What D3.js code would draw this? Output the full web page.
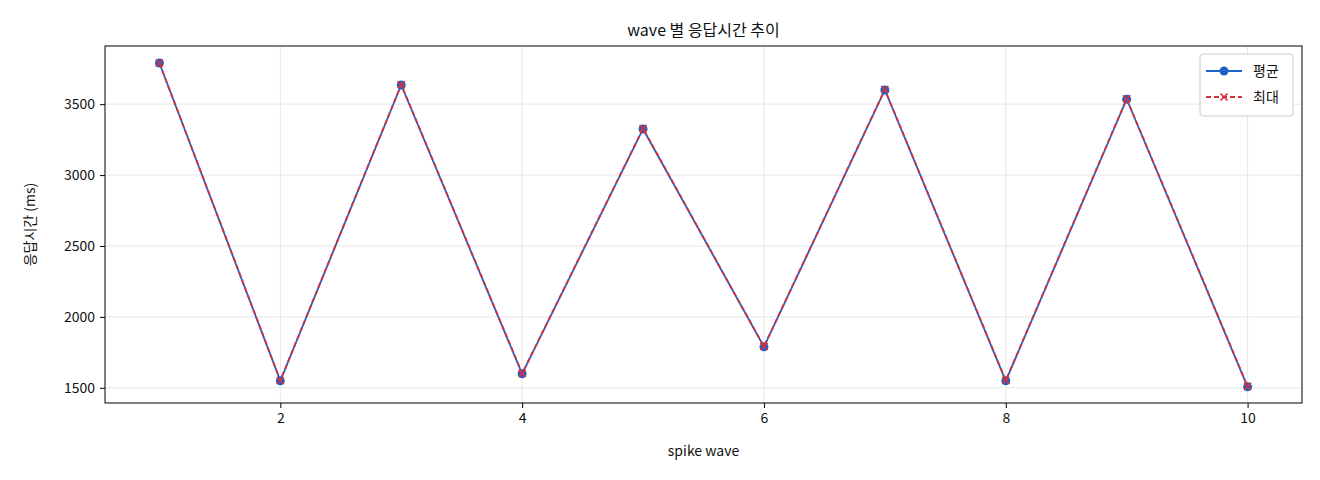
<!DOCTYPE html><html><head><meta charset="utf-8"><script src="https://cdn.jsdelivr.net/npm/d3@7"></script>
<style>body{margin:0;background:#fff}text{font-family:"Noto Sans CJK KR","DejaVu Sans",sans-serif;fill:#111}</style></head><body><svg id="c" width="1320" height="480"></svg><script>
const waves=[1,2,3,4,5,6,7,8,9,10];
const avgVals=[3790,1549,3635,1599,3325,1789,3600,1549,3535,1507];
const maxVals=[3790,1552,3638,1602,3328,1792,3603,1552,3538,1510];
const xTicks=[2,4,6,8,10];
const yTicks=[1500,2000,2500,3000,3500];
const svg=d3.select("#c");
const L=105,R=1302,T=46,B=403;
const x=d3.scaleLinear().domain([0.55,10.45]).range([L,R]);
const y=d3.scaleLinear().domain([1393,3910]).range([B,T]);
const g=svg.append("g");
xTicks.forEach(t=>g.append("line").attr("x1",x(t)).attr("x2",x(t)).attr("y1",T).attr("y2",B).attr("stroke","#e6e6e6"));
yTicks.forEach(t=>g.append("line").attr("y1",y(t)).attr("y2",y(t)).attr("x1",L).attr("x2",R).attr("stroke","#e6e6e6"));
const styleAx=a=>{a.select(".domain").remove();a.selectAll("line").attr("stroke","#000");a.selectAll("text").attr("font-size",14).attr("fill","#111");};
svg.append("g").attr("transform",`translate(0,${B})`).call(d3.axisBottom(x).tickValues(xTicks).tickFormat(d3.format("d")).tickSize(5).tickPadding(5)).call(styleAx);
svg.append("g").attr("transform",`translate(${L},0)`).call(d3.axisLeft(y).tickValues(yTicks).tickFormat(d3.format("d")).tickSize(5).tickPadding(5)).call(styleAx);
svg.append("rect").attr("x",L).attr("y",T).attr("width",R-L).attr("height",B-T).attr("fill","none").attr("stroke","#000").attr("stroke-width",1);
const line=d3.line().x((d,i)=>x(waves[i])).y(d=>y(d));
const blue="#1f63c6",red="#d62f3a";
svg.append("path").attr("d",line(avgVals)).attr("fill","none").attr("stroke",blue).attr("stroke-width",1.8);
avgVals.forEach((v,i)=>svg.append("circle").attr("cx",x(waves[i])).attr("cy",y(v)).attr("r",4.5).attr("fill",blue));
svg.append("path").attr("d",line(maxVals)).attr("fill","none").attr("stroke",red).attr("stroke-width",1.8).attr("stroke-dasharray","5,3");
const cross=(cx,cy,s)=>`M${cx-s},${cy-s}L${cx+s},${cy+s}M${cx-s},${cy+s}L${cx+s},${cy-s}`;
maxVals.forEach((v,i)=>svg.append("path").attr("d",cross(x(waves[i]),y(v),3.5)).attr("stroke",red).attr("stroke-width",1.6));
svg.append("text").attr("x",(L+R)/2).attr("y",36).attr("text-anchor","middle").attr("font-size",16).text("wave 별 응답시간 추이");
svg.append("text").attr("x",(L+R)/2).attr("y",456).attr("text-anchor","middle").attr("font-size",14).text("spike wave");
svg.append("text").attr("transform",`translate(35,${(T+B)/2}) rotate(-90)`).attr("text-anchor","middle").attr("font-size",14).text("응답시간 (ms)");
const lg=svg.append("g").attr("transform","translate(1200,54)");
lg.append("rect").attr("width",93).attr("height",62).attr("rx",3).attr("fill","#fff").attr("stroke","#ccc");
lg.append("line").attr("x1",6).attr("x2",42).attr("y1",17).attr("y2",17).attr("stroke",blue).attr("stroke-width",1.8);
lg.append("circle").attr("cx",24).attr("cy",17).attr("r",4.5).attr("fill",blue);
lg.append("line").attr("x1",6).attr("x2",42).attr("y1",43).attr("y2",43).attr("stroke",red).attr("stroke-width",1.8).attr("stroke-dasharray","5,3");
lg.append("path").attr("d",cross(24,43,3.5)).attr("stroke",red).attr("stroke-width",1.6);
lg.append("text").attr("x",53).attr("y",22).attr("font-size",14).text("평균");
lg.append("text").attr("x",53).attr("y",48).attr("font-size",14).text("최대");
</script></body></html>
